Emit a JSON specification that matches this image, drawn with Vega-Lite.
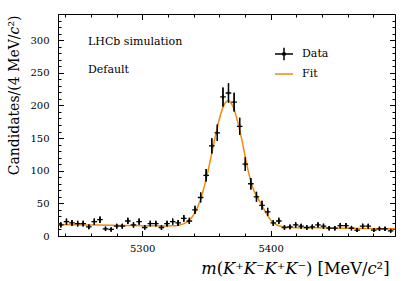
{
  "$schema": "https://vega.github.io/schema/vega-lite/v6.json",
  "width": 337,
  "height": 222,
  "autosize": "none",
  "padding": {"left": 58, "top": 14, "right": 20, "bottom": 45},
  "background": "white",
  "config": {
    "font": "DejaVu Serif",
    "view": {"stroke": "black", "strokeWidth": 1},
    "axis": {"grid": false, "domainColor": "black", "tickColor": "black", "labelColor": "black", "titleColor": "black", "labelFont": "DejaVu Serif", "titleFont": "DejaVu Serif", "labelFontSize": 10, "titleFontWeight": "normal", "tickWidth": 1}
  },
  "title": {"text": ["LHCb simulation", "Default"], "anchor": "start", "frame": "group", "orient": "top", "offset": 0, "dx": 30, "dy": 61, "baseline": "top", "lineHeight": 28, "fontSize": 11, "fontWeight": "normal", "font": "DejaVu Serif", "color": "black"},
  "datasets": {
    "pts": [
      {"m": 5236.6, "n": 17, "e": 4.1}, {"m": 5241.0, "n": 22, "e": 4.7}, {"m": 5245.3, "n": 20, "e": 4.5}, {"m": 5249.7, "n": 19, "e": 4.4},
      {"m": 5254.0, "n": 19, "e": 4.4}, {"m": 5258.4, "n": 14, "e": 3.7}, {"m": 5262.7, "n": 22, "e": 4.7}, {"m": 5267.1, "n": 25, "e": 5.0},
      {"m": 5271.4, "n": 11, "e": 3.3}, {"m": 5275.8, "n": 10, "e": 3.2}, {"m": 5280.1, "n": 15, "e": 3.9}, {"m": 5284.5, "n": 15, "e": 3.9},
      {"m": 5288.8, "n": 23, "e": 4.8}, {"m": 5293.2, "n": 17, "e": 4.1}, {"m": 5297.6, "n": 22, "e": 4.7}, {"m": 5301.9, "n": 13, "e": 3.6},
      {"m": 5306.3, "n": 19, "e": 4.4}, {"m": 5310.6, "n": 19, "e": 4.4}, {"m": 5315.0, "n": 13, "e": 3.6}, {"m": 5319.3, "n": 19, "e": 4.4},
      {"m": 5323.7, "n": 22, "e": 4.7}, {"m": 5328.0, "n": 20, "e": 4.5}, {"m": 5332.4, "n": 27, "e": 5.2}, {"m": 5336.7, "n": 23, "e": 4.8},
      {"m": 5341.1, "n": 40, "e": 6.3}, {"m": 5345.5, "n": 59, "e": 7.7}, {"m": 5349.8, "n": 93, "e": 9.6}, {"m": 5354.2, "n": 138, "e": 11.7},
      {"m": 5358.5, "n": 158, "e": 12.6}, {"m": 5362.9, "n": 213, "e": 14.6}, {"m": 5367.2, "n": 219, "e": 14.8}, {"m": 5371.6, "n": 205, "e": 14.3},
      {"m": 5375.9, "n": 168, "e": 13.0}, {"m": 5380.3, "n": 110, "e": 10.5}, {"m": 5384.6, "n": 80, "e": 8.9}, {"m": 5389.0, "n": 60, "e": 7.7},
      {"m": 5393.3, "n": 47, "e": 6.9}, {"m": 5397.7, "n": 37, "e": 6.1}, {"m": 5402.1, "n": 20, "e": 4.5}, {"m": 5406.4, "n": 23, "e": 4.8},
      {"m": 5410.8, "n": 13, "e": 3.6}, {"m": 5415.1, "n": 14, "e": 3.7}, {"m": 5419.5, "n": 17, "e": 4.1}, {"m": 5423.8, "n": 15, "e": 3.9},
      {"m": 5428.2, "n": 13, "e": 3.6}, {"m": 5432.5, "n": 14, "e": 3.7}, {"m": 5436.9, "n": 17, "e": 4.1}, {"m": 5441.2, "n": 15, "e": 3.9},
      {"m": 5445.6, "n": 12, "e": 3.5}, {"m": 5450.0, "n": 12, "e": 3.5}, {"m": 5454.3, "n": 16, "e": 4.0}, {"m": 5458.7, "n": 16, "e": 4.0},
      {"m": 5463.0, "n": 12, "e": 3.5}, {"m": 5467.4, "n": 9, "e": 3.0}, {"m": 5471.7, "n": 15, "e": 3.9}, {"m": 5476.1, "n": 15, "e": 3.9},
      {"m": 5480.4, "n": 9, "e": 3.0}, {"m": 5484.8, "n": 11, "e": 3.3}, {"m": 5489.1, "n": 11, "e": 3.3}, {"m": 5493.5, "n": 8, "e": 2.8}
    ],
    "fit": [
      {"m": 5234.4, "f": 17.55}, {"m": 5245, "f": 17.25}, {"m": 5255, "f": 17.0}, {"m": 5265, "f": 16.75}, {"m": 5275, "f": 16.5},
      {"m": 5285, "f": 16.25}, {"m": 5295, "f": 16.0}, {"m": 5305, "f": 15.75}, {"m": 5315, "f": 15.5}, {"m": 5319, "f": 15.4},
      {"m": 5321, "f": 15.5}, {"m": 5323, "f": 15.6}, {"m": 5325, "f": 15.8}, {"m": 5327, "f": 16.2}, {"m": 5329, "f": 16.8},
      {"m": 5331, "f": 17.8}, {"m": 5333, "f": 19.3}, {"m": 5335, "f": 21.5}, {"m": 5337, "f": 24.9}, {"m": 5339, "f": 29.4},
      {"m": 5341, "f": 35.6}, {"m": 5343, "f": 43.6}, {"m": 5345, "f": 53.8}, {"m": 5347, "f": 66.2}, {"m": 5349, "f": 80.9},
      {"m": 5351, "f": 97.4}, {"m": 5353, "f": 115.6}, {"m": 5355, "f": 134.4}, {"m": 5357, "f": 153.2}, {"m": 5359, "f": 170.6},
      {"m": 5361, "f": 185.7}, {"m": 5363, "f": 197.4}, {"m": 5365, "f": 204.8}, {"m": 5367, "f": 207.2}, {"m": 5369, "f": 204.2},
      {"m": 5371, "f": 197.1}, {"m": 5373, "f": 185.1}, {"m": 5375, "f": 170.0}, {"m": 5377, "f": 153.0}, {"m": 5379, "f": 133.9},
      {"m": 5381, "f": 113.9}, {"m": 5383, "f": 95.8}, {"m": 5385, "f": 80.8}, {"m": 5387, "f": 69.7}, {"m": 5389, "f": 61.7},
      {"m": 5391, "f": 54.6}, {"m": 5393, "f": 47.6}, {"m": 5395, "f": 40.5}, {"m": 5397, "f": 33.5}, {"m": 5399, "f": 27.4},
      {"m": 5401, "f": 22.4}, {"m": 5403, "f": 19.3}, {"m": 5405, "f": 16.8}, {"m": 5407, "f": 15.2}, {"m": 5409, "f": 14.2},
      {"m": 5411, "f": 13.6}, {"m": 5413, "f": 13.3}, {"m": 5415, "f": 13.0}, {"m": 5425, "f": 12.75}, {"m": 5435, "f": 12.5},
      {"m": 5445, "f": 12.25}, {"m": 5455, "f": 12.0}, {"m": 5465, "f": 11.75}, {"m": 5475, "f": 11.5}, {"m": 5485, "f": 11.25},
      {"m": 5496.9, "f": 11.0}
    ]
  },
  "resolve": {"axis": {"x": "independent", "y": "independent"}},
  "layer": [
    {
      "data": {"name": "fit"},
      "mark": {"type": "line", "strokeWidth": 1.5, "interpolate": "monotone", "clip": true},
      "encoding": {
        "x": {"field": "m", "type": "quantitative", "scale": {"domain": [5234.4, 5496.9], "nice": false, "zero": false},
          "axis": {"orient": "bottom", "values": [5300, 5400], "tickSize": -5.5, "labelPadding": 13, "format": "d", "labelFont": "DejaVu Serif",
            "title": "𝑚(𝐾⁺𝐾⁻𝐾⁺𝐾⁻)  [MeV/𝑐²]", "titleFontSize": 16.3, "titleAnchor": "end", "titleAlign": "right", "titleX": 331, "titleY": 32, "titleBaseline": "middle"}},
        "y": {"field": "f", "type": "quantitative", "scale": {"domain": [0, 340], "nice": false, "zero": false},
          "axis": {"orient": "left", "values": [0, 50, 100, 150, 200, 250, 300], "tickSize": -5.5, "labelPadding": 14.5, "labelFont": "DejaVu Serif",
            "title": "Candidates/(4 MeV/𝑐²)", "titleFontSize": 14, "titleAngle": -90, "titleAlign": "right", "titleBaseline": "middle", "titleX": -44, "titleY": 1}},
        "color": {"datum": "Fit", "type": "nominal", "scale": {"domain": ["Data", "Fit"], "range": ["black", "#f5870a"]},
          "legend": {"title": null, "orient": "none", "legendX": 216, "legendY": 30, "symbolSize": 324, "symbolStrokeWidth": 1.5, "labelFontSize": 11, "labelFont": "DejaVu Serif", "rowPadding": 0, "labelOffset": 8, "padding": 0}}
      }
    },
    {
      "data": {"name": "pts"},
      "mark": {"type": "errorbar", "ticks": false, "color": "black", "thickness": 1.3},
      "encoding": {
        "x": {"field": "m", "type": "quantitative", "scale": {"domain": [5234.4, 5496.9], "nice": false, "zero": false},
          "axis": {"orient": "top", "values": [5300, 5400], "tickSize": -5.5, "labels": false, "title": null, "domain": false}},
        "y": {"field": "n", "type": "quantitative", "scale": {"domain": [0, 340], "nice": false, "zero": false},
          "axis": {"orient": "right", "values": [0, 50, 100, 150, 200, 250, 300], "tickSize": -5.5, "labels": false, "title": null, "domain": false}},
        "yError": {"field": "e"}
      }
    },
    {
      "data": {"name": "pts"},
      "mark": {"type": "errorbar", "ticks": false, "color": "black", "thickness": 1.3},
      "encoding": {
        "x": {"field": "m", "type": "quantitative", "scale": {"domain": [5234.4, 5496.9], "nice": false, "zero": false},
          "axis": {"orient": "bottom", "values": [5240, 5260, 5280, 5320, 5340, 5360, 5380, 5420, 5440, 5460, 5480], "tickSize": -3, "labels": false, "title": null, "domain": false}},
        "y": {"field": "n", "type": "quantitative", "scale": {"domain": [0, 340], "nice": false, "zero": false},
          "axis": {"orient": "left", "values": [10, 20, 30, 40, 60, 70, 80, 90, 110, 120, 130, 140, 160, 170, 180, 190, 210, 220, 230, 240, 260, 270, 280, 290, 310, 320, 330], "tickSize": -3, "labels": false, "title": null, "domain": false}},
        "yError": {"field": "e"}
      }
    },
    {
      "data": {"name": "pts"},
      "mark": {"type": "point", "filled": false, "strokeWidth": 1.3, "size": 31, "opacity": 1},
      "encoding": {
        "x": {"field": "m", "type": "quantitative", "scale": {"domain": [5234.4, 5496.9], "nice": false, "zero": false},
          "axis": {"orient": "top", "values": [5240, 5260, 5280, 5320, 5340, 5360, 5380, 5420, 5440, 5460, 5480], "tickSize": -3, "labels": false, "title": null, "domain": false}},
        "y": {"field": "n", "type": "quantitative", "scale": {"domain": [0, 340], "nice": false, "zero": false},
          "axis": {"orient": "right", "values": [10, 20, 30, 40, 60, 70, 80, 90, 110, 120, 130, 140, 160, 170, 180, 190, 210, 220, 230, 240, 260, 270, 280, 290, 310, 320, 330], "tickSize": -3, "labels": false, "title": null, "domain": false}},
        "color": {"datum": "Data", "type": "nominal", "scale": {"domain": ["Data", "Fit"], "range": ["black", "#f5870a"]},
          "legend": {"title": null, "orient": "none", "legendX": 216, "legendY": 30, "symbolSize": 324, "symbolStrokeWidth": 1.5, "labelFontSize": 11, "labelFont": "DejaVu Serif", "rowPadding": 0, "labelOffset": 8, "padding": 0}},
        "shape": {"datum": "Data", "type": "nominal", "scale": {"domain": ["Data", "Fit"], "range": ["M-1,0H1M0,-0.7V0.7M-0.15,0A0.15,0.15 0 1,0 0.15,0A0.15,0.15 0 1,0 -0.15,0", "M-1,0H1"]},
          "legend": {"title": null, "orient": "none", "legendX": 216, "legendY": 30, "symbolSize": 324, "symbolStrokeWidth": 1.5, "labelFontSize": 11, "labelFont": "DejaVu Serif", "rowPadding": 0, "labelOffset": 8, "padding": 0}}
      }
    }
  ]
}
